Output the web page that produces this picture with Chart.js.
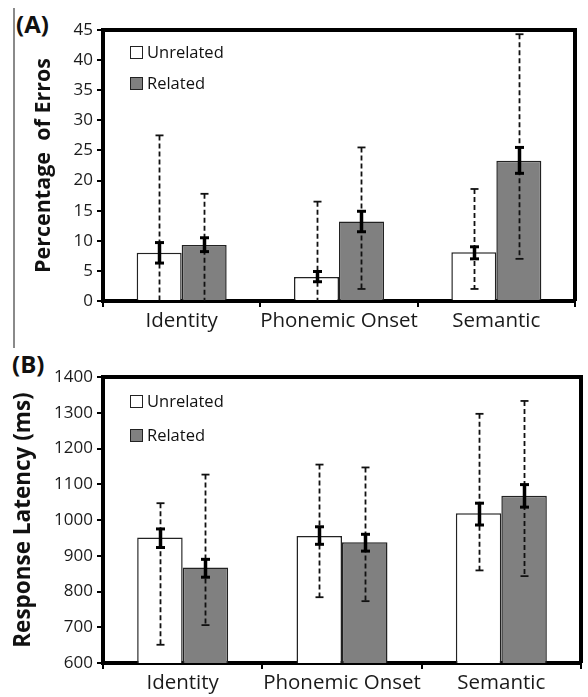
<!DOCTYPE html>
<html><head><meta charset="utf-8">
<script src="https://cdn.jsdelivr.net/npm/chart.js@4.4.1/dist/chart.umd.min.js"></script>
<style>
html,body{margin:0;padding:0;background:#fff;}
body{width:588px;height:697px;position:relative;overflow:hidden;font-family:"Open Sans",sans-serif;}
.panel{position:absolute;left:0;}
.lbl{position:absolute;font-weight:bold;font-size:24px;color:#111;line-height:1;font-family:"Open Sans",sans-serif;}
.leg{position:absolute;left:130px;font-size:16.5px;color:#111;}
.leg .item{position:absolute;left:0;height:20px;line-height:20px;display:flex;align-items:center;white-space:nowrap;}
.leg .box{width:11px;height:11px;border:1px solid #222;margin-right:4px;box-sizing:content-box;}
#vline{position:absolute;left:13px;top:8px;width:2px;height:340px;background:#8a8a8a;}
</style></head>
<body>
<div id="vline"></div>
<div class="lbl" style="left:16px;top:12px;">(A)</div>
<div class="lbl" style="left:12px;top:352px;">(B)</div>
<canvas id="cA" class="panel" style="top:0px" width="588" height="345"></canvas>
<canvas id="cB" class="panel" style="top:345px" width="588" height="352"></canvas>
<div id="legA" class="leg"></div>
<div id="legB" class="leg"></div>
<script>
// ---------- DATA ----------
const categories = ['Identity', 'Phonemic Onset', 'Semantic'];
const seriesLabels = ['Unrelated', 'Related'];
const seriesColors = ['#ffffff', '#808080'];

// Panel A: Percentage of errors
const errUnrelated = [8.0, 4.0, 8.1];
const errRelated = [9.3, 13.2, 23.3];
const errUnrelatedSE = [[6.3, 9.7], [3.2, 4.9], [7.0, 9.0]];
const errRelatedSE = [[8.2, 10.5], [11.5, 14.9], [21.2, 25.5]];
const errUnrelatedSD = [[0, 27.5], [0, 16.5], [2.0, 18.6]];
const errRelatedSD = [[0, 17.8], [2.0, 25.5], [7.0, 44.3]];
const errTicks = {min: 0, max: 45, step: 5};
const errTitle = 'Percentage  of Erros';

// Panel B: Response latency
const latUnrelated = [951, 955, 1019];
const latRelated = [867, 938, 1068];
const latUnrelatedSE = [[923, 975], [932, 981], [986, 1047]];
const latRelatedSE = [[840, 890], [913, 960], [1036, 1099]];
const latUnrelatedSD = [[651, 1047], [784, 1155], [859, 1297]];
const latRelatedSD = [[706, 1127], [773, 1147], [843, 1333]];
const latTicks = {min: 600, max: 1400, step: 100};
const latTitle = 'Response Latency (ms)';

// ---------- PLUGINS ----------
const errorBarPlugin = {
  id: 'errorBars',
  afterDatasetsDraw(chart) {
    const ctx = chart.ctx, ys = chart.scales.y, a = chart.chartArea;
    ctx.save();
    ctx.beginPath();
    ctx.rect(a.left, a.top - 2, a.right - a.left, a.bottom - a.top + 2);
    ctx.clip();
    chart.data.datasets.forEach((ds, i) => {
      const meta = chart.getDatasetMeta(i);
      meta.data.forEach((bar, j) => {
        const x = Math.round(bar.x) + 0.5;
        const sd = ds.sd[j], se = ds.se[j];
        // SD dashed
        const y1 = ys.getPixelForValue(sd[0]), y2 = ys.getPixelForValue(sd[1]);
        ctx.strokeStyle = '#111';
        ctx.lineWidth = 1.8;
        ctx.setLineDash([5, 3]);
        ctx.beginPath(); ctx.moveTo(x, y2); ctx.lineTo(x, y1); ctx.stroke();
        ctx.setLineDash([]);
        [sd[0], sd[1]].forEach(v => {
          if (v > ys.min && v < ys.max + 0.001) {
            const yy = ys.getPixelForValue(v);
            ctx.beginPath(); ctx.moveTo(x - 4, yy); ctx.lineTo(x + 4, yy); ctx.stroke();
          }
        });
        // SE thick
        const s1 = ys.getPixelForValue(se[0]), s2 = ys.getPixelForValue(se[1]);
        ctx.lineWidth = 3.5;
        ctx.strokeStyle = '#000';
        ctx.beginPath(); ctx.moveTo(x, s1); ctx.lineTo(x, s2); ctx.stroke();
        ctx.lineWidth = 3;
        [s1, s2].forEach(yy => {
          ctx.beginPath(); ctx.moveTo(x - 4.5, yy); ctx.lineTo(x + 4.5, yy); ctx.stroke();
        });
      });
    });
    ctx.restore();
  }
};
const framePlugin = {
  id: 'frame',
  afterDraw(chart) {
    const ctx = chart.ctx, a = chart.chartArea;
    ctx.save();
    ctx.strokeStyle = '#000';
    ctx.lineWidth = 4;
    ctx.beginPath();
    ctx.moveTo(a.left, a.top);
    ctx.lineTo(a.right, a.top);
    ctx.lineTo(a.right, a.bottom);
    ctx.stroke();
    ctx.restore();
  }
};

function makeChart(id, cfg) {
  const ds = [
    {label: seriesLabels[0], data: cfg.v1, se: cfg.se1, sd: cfg.sd1,
     backgroundColor: seriesColors[0], borderColor: '#222', borderWidth: 1.5,
     barPercentage: 1.0, categoryPercentage: cfg.catPct},
    {label: seriesLabels[1], data: cfg.v2, se: cfg.se2, sd: cfg.sd2,
     backgroundColor: seriesColors[1], borderColor: '#222', borderWidth: 1.5,
     barPercentage: 1.0, categoryPercentage: cfg.catPct}
  ];
  return new Chart(document.getElementById(id), {
    type: 'bar',
    data: {labels: categories, datasets: ds},
    plugins: [errorBarPlugin, framePlugin],
    options: {
      responsive: false,
      animation: false,
      devicePixelRatio: 1,
      layout: {padding: cfg.pad},
      plugins: {legend: {display: false}, tooltip: {enabled: false}, title: {display: false}},
      scales: {
        x: {
          grid: {offset: true, drawOnChartArea: false, drawTicks: true, tickLength: 6, color: '#000', lineWidth: 2},
          border: {display: true, color: '#000', width: 4},
          ticks: {color: '#1a1a1a', font: {family: 'Open Sans', size: 20.5}, padding: 2, maxRotation: 0, autoSkip: false},
          afterFit(s) { s.height = cfg.xh; }
        },
        y: {
          min: cfg.ticks.min, max: cfg.ticks.max,
          grid: {drawOnChartArea: false, drawTicks: true, tickLength: 6, color: '#000', lineWidth: 2},
          border: {display: true, color: '#000', width: 4},
          ticks: {stepSize: cfg.ticks.step, color: '#1a1a1a', font: {family: 'Open Sans', size: 17}, padding: 4,
                  callback: v => String(v)},
          title: {display: true, text: cfg.title, color: '#111',
                  font: {family: 'Open Sans', size: cfg.titleSize, weight: 'bold'}, padding: {top: cfg.titlePad, bottom: 0}},
          afterFit(s) { s.width = cfg.yw; }
        }
      }
    }
  });
}

makeChart('cA', {
  v1: errUnrelated, v2: errRelated, se1: errUnrelatedSE, se2: errRelatedSE,
  sd1: errUnrelatedSD, sd2: errRelatedSD, ticks: errTicks, title: errTitle,
  pad: {left: 27, top: 30, right: 13, bottom: 0}, yw: 76, xh: 44, catPct: 0.572,
  titleSize: 21.5, titlePad: 4
});
makeChart('cB', {
  v1: latUnrelated, v2: latRelated, se1: latUnrelatedSE, se2: latRelatedSE,
  sd1: latUnrelatedSD, sd2: latRelatedSD, ticks: latTicks, title: latTitle,
  pad: {left: 7, top: 32, right: 7, bottom: 0}, yw: 96, xh: 34, catPct: 0.571,
  titleSize: 22.5, titlePad: 3
});

function makeLegend(id, centers) {
  const el = document.getElementById(id);
  seriesLabels.forEach((lab, i) => {
    const it = document.createElement('div');
    it.className = 'item';
    it.style.top = (centers[i] - 10) + 'px';
    const b = document.createElement('div');
    b.className = 'box';
    b.style.background = seriesColors[i];
    const t = document.createElement('span');
    t.textContent = lab;
    it.appendChild(b); it.appendChild(t);
    el.appendChild(it);
  });
}
makeLegend('legA', [52, 83]);
makeLegend('legB', [401, 435]);
</script>
</body></html>
